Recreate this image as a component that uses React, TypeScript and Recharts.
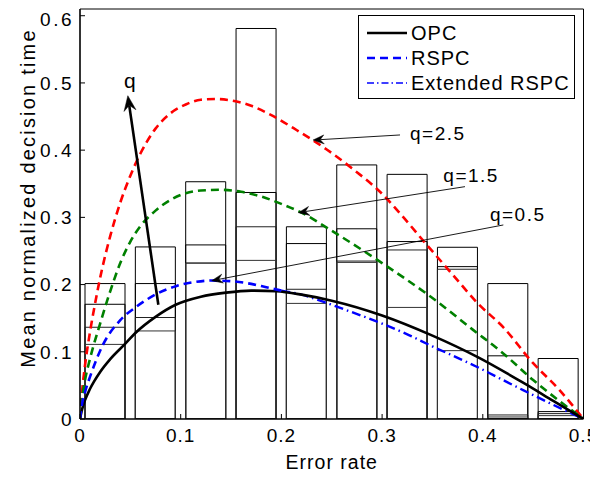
import React from 'react';
import {
  ComposedChart,
  Bar,
  Line,
  XAxis,
  YAxis,
  ReferenceLine,
  ReferenceDot,
  Legend,
} from 'recharts';

// ---------- data ----------
const binLabels = ['0.025', '0.075', '0.125', '0.175', '0.225', '0.275', '0.325', '0.375', '0.425', '0.475'];
const barsA = [0.2015, 0.256, 0.353, 0.581, 0.286, 0.378, 0.364, 0.2555, 0.2015, 0.09];
const barsB = [0.1707, 0.2015, 0.259, 0.337, 0.261, 0.283, 0.264, 0.2267, 0.094, 0.011];
const barsC = [0.1365, 0.151, 0.232, 0.286, 0.193, 0.235, 0.2515, 0.2228, 0.006, 0.008];
const barsD = [0.111, 0.131, 0.232, 0.236, 0.172, 0.233, 0.166, 0.1017, 0.003, 0.005];

const opcX = [0, 0.002, 0.005, 0.01, 0.02, 0.03, 0.045, 0.055, 0.075, 0.095, 0.12, 0.145, 0.17, 0.195, 0.22, 0.25, 0.3, 0.35, 0.395, 0.44, 0.47, 0.5];
const opcY = [0, 0.014, 0.028, 0.045, 0.07, 0.089, 0.112, 0.128, 0.152, 0.17, 0.182, 0.188, 0.191, 0.19, 0.185, 0.176, 0.154, 0.124, 0.092, 0.054, 0.027, 0];

const rspc05X = [0, 0.002, 0.005, 0.01, 0.023, 0.04, 0.056, 0.076, 0.096, 0.115, 0.13, 0.15, 0.17, 0.185, 0.2];
const rspc05Y = [0, 0.022, 0.04, 0.063, 0.111, 0.147, 0.167, 0.186, 0.198, 0.204, 0.206, 0.205, 0.201, 0.196, 0.191];

const extX = [0.2, 0.22, 0.248, 0.27, 0.298, 0.325, 0.35, 0.375, 0.395, 0.42, 0.44, 0.47, 0.5];
const extY = [0.191, 0.185, 0.171, 0.159, 0.143, 0.126, 0.108, 0.091, 0.077, 0.058, 0.043, 0.021, 0];

const rspc15X = [0, 0.002, 0.005, 0.01, 0.02, 0.03, 0.04, 0.05, 0.06, 0.075, 0.09, 0.105, 0.12, 0.14, 0.16, 0.18, 0.2, 0.22, 0.25, 0.3, 0.35, 0.39, 0.42, 0.45, 0.475, 0.5];
const rspc15Y = [0, 0.03, 0.058, 0.09, 0.142, 0.19, 0.232, 0.264, 0.287, 0.31, 0.326, 0.336, 0.34, 0.341, 0.338, 0.331, 0.32, 0.307, 0.28, 0.232, 0.18, 0.133, 0.098, 0.058, 0.028, 0];

const rspc25X = [0, 0.002, 0.005, 0.01, 0.015, 0.02, 0.03, 0.04, 0.05, 0.06, 0.075, 0.09, 0.105, 0.12, 0.135, 0.15, 0.17, 0.19, 0.215, 0.245, 0.27, 0.3, 0.32, 0.345, 0.37, 0.395, 0.42, 0.45, 0.475, 0.5];
const rspc25Y = [0, 0.04, 0.08, 0.13, 0.172, 0.21, 0.272, 0.322, 0.362, 0.395, 0.432, 0.455, 0.468, 0.475, 0.476, 0.474, 0.466, 0.452, 0.43, 0.401, 0.373, 0.335, 0.302, 0.258, 0.215, 0.172, 0.137, 0.083, 0.045, 0];

const xTicks = [0, 0.1, 0.2, 0.3, 0.4, 0.5];
const yTicks = [0, 0.1, 0.2, 0.3, 0.4, 0.5, 0.6];

const arrowLines = [
  { x1: 0.0778, y1: 0.17, x2: 0.0475, y2: 0.481, big: true },
  { x1: 0.3178, y1: 0.4226, x2: 0.2314, y2: 0.415, big: false },
  { x1: 0.3823, y1: 0.3457, x2: 0.2168, y2: 0.307, big: false },
  { x1: 0.4204, y1: 0.2887, x2: 0.1308, y2: 0.2058, big: false },
];
const noteTexts = ['q', 'q=2.5', 'q=1.5', 'q=0.5'];
const noteX = [0.0437, 0.3277, 0.3608, 0.4071];
const noteY = [0.4926, 0.415, 0.353, 0.295];

const legendNames = ['OPC', 'RSPC', 'Extended RSPC'];

// ---------- derived tables ----------
const barData = binLabels.map((bin, i) => ({ bin, a: barsA[i], b: barsB[i], c: barsC[i], d: barsD[i] }));
const toPts = (xs: number[], ys: number[]) => xs.map((x, i) => ({ x, y: ys[i] }));
const opcData = toPts(opcX, opcY);
const rspc05Data = toPts(rspc05X, rspc05Y);
const extData = toPts(extX, extY);
const rspc15Data = toPts(rspc15X, rspc15Y);
const rspc25Data = toPts(rspc25X, rspc25Y);

const FONT = '"Liberation Sans", Arial, Helvetica, sans-serif';

const makeArrow = (head: number, halfW: number, width: number) => (p: any) => {
  const { x1, y1, x2, y2 } = p;
  const dx = x2 - x1;
  const dy = y2 - y1;
  const len = Math.hypot(dx, dy) || 1;
  const ux = dx / len;
  const uy = dy / len;
  const nx = -uy;
  const ny = ux;
  const bx = x2 - ux * head;
  const by = y2 - uy * head;
  const mx = x2 - ux * head * 0.65;
  const my = y2 - uy * head * 0.65;
  const d = `M${x2},${y2} L${bx + nx * halfW},${by + ny * halfW} L${mx},${my} L${bx - nx * halfW},${by - ny * halfW} Z`;
  return (
    <g>
      <line x1={x1} y1={y1} x2={mx} y2={my} stroke="#000" strokeWidth={width} />
      <path d={d} fill="#000" stroke="#000" strokeWidth={0.5} />
    </g>
  );
};

const bigArrow = makeArrow(15, 6, 2.6);
const smallArrow = makeArrow(11, 4.5, 0.9);

const renderYLabel = (props: any) => {
  const vb = props.viewBox || { x: 0, y: 0, width: 0, height: 0 };
  const cx = vb.x + 27;
  const cy = vb.y + vb.height / 2 - 16;
  return (
    <text
      x={cx}
      y={cy}
      transform={`rotate(-90, ${cx}, ${cy})`}
      textAnchor="middle"
      fontSize={20}
      fill="#000"
      style={{ letterSpacing: '2.2px', fontFamily: FONT }}
    >
      Mean normalized decision time
    </text>
  );
};

const renderXLabel = (props: any) => {
  const vb = props.viewBox || { x: 0, y: 0, width: 0, height: 0 };
  const cx = vb.x + vb.width / 2;
  const cy = vb.y + 50;
  return (
    <text x={cx} y={cy} textAnchor="middle" fontSize={19.5} fill="#000" style={{ letterSpacing: '1px', fontFamily: FONT }}>
      Error rate
    </text>
  );
};

const legendSamples = [
  { color: '#000', width: 2.6, dash: undefined as string | undefined },
  { color: '#0000ff', width: 2.6, dash: '8 5' },
  { color: '#0000ff', width: 1.6, dash: '7 3 1.5 3' },
];

const renderLegend = () => (
  <div
    style={{
      width: 217,
      height: 84,
      boxSizing: 'border-box',
      border: '1.3px solid #000',
      background: '#fff',
      paddingTop: 4,
      fontFamily: FONT,
    }}
  >
    {legendNames.map((name, i) => (
      <div key={name} style={{ display: 'flex', alignItems: 'center', height: 25.3 }}>
        <svg width={52} height={10} style={{ display: 'block' }}>
          <line
            x1={8}
            y1={5}
            x2={48}
            y2={5}
            stroke={legendSamples[i].color}
            strokeWidth={legendSamples[i].width}
            strokeDasharray={legendSamples[i].dash}
          />
        </svg>
        <span style={{ fontSize: 20, letterSpacing: '1px', color: '#000', lineHeight: '20px' }}>{name}</span>
      </div>
    ))}
  </div>
);

const yTickStyle = { fontSize: 19, fill: '#000', fontFamily: FONT, letterSpacing: '2.5px' } as any;
const xTickStyle = { fontSize: 19, fill: '#000', fontFamily: FONT, letterSpacing: '1px' } as any;

export default function App() {
  return (
    <div style={{ fontFamily: FONT, width: 582, height: 461, overflow: 'visible' }}>
      <style>{`.recharts-surface { overflow: visible; } .recharts-wrapper { overflow: visible; }`}</style>
      <ComposedChart
        width={590}
        height={469}
        data={barData}
        margin={{ top: 0, right: 13.5, bottom: 28, left: 0 }}
      >
        <XAxis
          xAxisId="x"
          dataKey="x"
          type="number"
          domain={[0, 0.5]}
          ticks={xTicks}
          allowDataOverflow
          height={30}
          stroke="#000"
          axisLine={{ stroke: '#000', strokeWidth: 1.6 }}
          tickLine={{ stroke: '#000', strokeWidth: 1 }}
          tickSize={-5}
          tickMargin={15}
          tick={xTickStyle}
          label={renderXLabel}
        />
        <XAxis
          xAxisId="top"
          orientation="top"
          type="number"
          domain={[0, 0.5]}
          ticks={xTicks}
          allowDataOverflow
          height={1}
          stroke="#000"
          axisLine={{ stroke: '#000', strokeWidth: 1 }}
          tickLine={{ stroke: '#000', strokeWidth: 1 }}
          tickSize={-5}
          tick={false}
        />
        <XAxis xAxisId="b0" dataKey="bin" type="category" orientation="top" height={0} hide />
        <XAxis xAxisId="b1" dataKey="bin" type="category" orientation="top" height={0} hide />
        <XAxis xAxisId="b2" dataKey="bin" type="category" orientation="top" height={0} hide />
        <XAxis xAxisId="b3" dataKey="bin" type="category" orientation="top" height={0} hide />
        <YAxis
          type="number"
          domain={[0, 0.61]}
          ticks={yTicks}
          allowDataOverflow
          width={72}
          stroke="#000"
          axisLine={{ stroke: '#000', strokeWidth: 1.6 }}
          tickLine={{ stroke: '#000', strokeWidth: 1 }}
          tickSize={-5}
          tickMargin={11}
          tick={yTickStyle}
          label={renderYLabel}
        />
        <YAxis
          yAxisId="r"
          orientation="right"
          type="number"
          domain={[0, 0.61]}
          ticks={yTicks}
          allowDataOverflow
          width={1}
          stroke="#000"
          axisLine={{ stroke: '#000', strokeWidth: 1 }}
          tickLine={{ stroke: '#000', strokeWidth: 1 }}
          tickSize={-5}
          tick={false}
        />

        <Bar xAxisId="b0" dataKey="a" fill="none" stroke="#000" strokeWidth={1} barSize={40} isAnimationActive={false} />
        <Bar xAxisId="b1" dataKey="b" fill="none" stroke="#000" strokeWidth={1} barSize={40} isAnimationActive={false} />
        <Bar xAxisId="b2" dataKey="c" fill="none" stroke="#222" strokeWidth={1} barSize={40} isAnimationActive={false} />
        <Bar xAxisId="b3" dataKey="d" fill="none" stroke="#333" strokeWidth={1} barSize={40} isAnimationActive={false} />

        <Line xAxisId="x" data={rspc25Data} dataKey="y" type="monotone" stroke="#ff0000" strokeWidth={2.6} strokeDasharray="8 5" dot={false} isAnimationActive={false} legendType="none" />
        <Line xAxisId="x" data={rspc15Data} dataKey="y" type="monotone" stroke="#008000" strokeWidth={2.6} strokeDasharray="8 5" dot={false} isAnimationActive={false} legendType="none" />
        <Line xAxisId="x" data={extData} dataKey="y" type="monotone" stroke="#0000ff" strokeWidth={2.4} strokeDasharray="9 4 1.5 4" dot={false} isAnimationActive={false} legendType="none" />
        <Line xAxisId="x" data={opcData} dataKey="y" type="monotone" stroke="#000" strokeWidth={2.6} dot={false} isAnimationActive={false} legendType="none" />
        <Line xAxisId="x" data={rspc05Data} dataKey="y" type="monotone" stroke="#0000ff" strokeWidth={2.6} strokeDasharray="8 5" dot={false} isAnimationActive={false} legendType="none" />

        {arrowLines.map((a, i) => (
          <ReferenceLine
            key={`arrow-${i}`}
            xAxisId="x"
            segment={[
              { x: a.x1, y: a.y1 },
              { x: a.x2, y: a.y2 },
            ]}
            stroke="#000"
            shape={a.big ? bigArrow : smallArrow}
          />
        ))}
        {noteTexts.map((t, i) => (
          <ReferenceDot
            key={`note-${i}`}
            xAxisId="x"
            x={noteX[i]}
            y={noteY[i]}
            r={0}
            shape={(p: any) => (
              <text
                x={p.cx}
                y={p.cy}
                fontSize={i === 0 ? 21 : 19}
                fill="#000"
                style={{ letterSpacing: i === 0 ? '0px' : '1.5px', fontFamily: FONT }}
              >
                {t}
              </text>
            )}
          />
        ))}

        <Legend
          layout="vertical"
          align="center"
          verticalAlign="middle"
          wrapperStyle={{ position: 'absolute', left: 350, top: 7, width: 217, height: 84 }}
          content={renderLegend}
        />
      </ComposedChart>
    </div>
  );
}
